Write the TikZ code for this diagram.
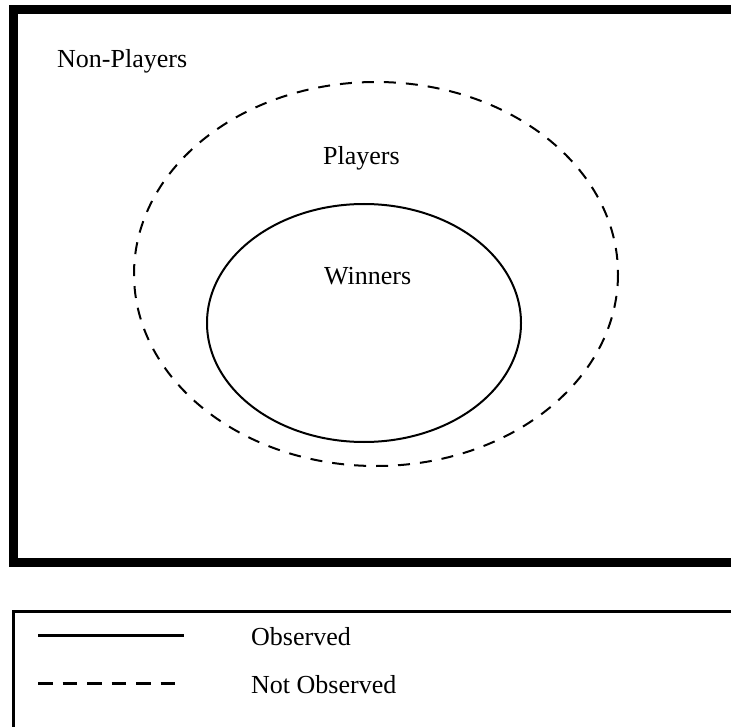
\documentclass[tikz,border=0pt]{standalone}
\usepackage{fontspec}
\setmainfont{Liberation Serif}
\begin{document}
\begin{tikzpicture}[x=1pt,y=-1pt,
  lbl/.style={anchor=base west,inner sep=0pt,font=\fontsize{26}{30}\selectfont},
  frame/.style={line width=9pt},
  legendframe/.style={line width=3pt},
  observed/.style={line width=2pt},
  notobserved/.style={line width=2pt,dash pattern=on 12pt off 10pt},
  legsolid/.style={line width=3pt},
  legdash/.style={line width=3pt,dash pattern=on 14.5pt off 10pt}]
\useasboundingbox (0,0) rectangle (731,727);
\clip (0,0) rectangle (731,727);
\fill[white] (0,0) rectangle (731,727);
% outer frame
\draw[frame] (760,10) -- (13,10) -- (13,562) -- (760,562);
% ellipses
\draw[notobserved] (376,274) ellipse [x radius=242, y radius=192];
\draw[observed] (364,323) ellipse [x radius=157, y radius=119];
% labels
\node[lbl] (nonplayers) at (57,68) {Non-Players};
\node[lbl] (players) at (323,165) {Players};
\node[lbl] (winners) at (324,285) {Winners};
% legend
\draw[legendframe] (760,611) -- (13.5,611) -- (13.5,760);
\coordinate (s1) at (38,635);
\coordinate (s2) at (184,635);
\coordinate (d1) at (38,683);
\coordinate (d2) at (175,683);
\draw[legsolid] (s1) -- (s2);
\draw[legdash] (d1) -- (d2);
\node[lbl] (obs) at (251,645) {Observed};
\node[lbl] (notobs) at (251,693) {Not Observed};
\end{tikzpicture}
\end{document}
